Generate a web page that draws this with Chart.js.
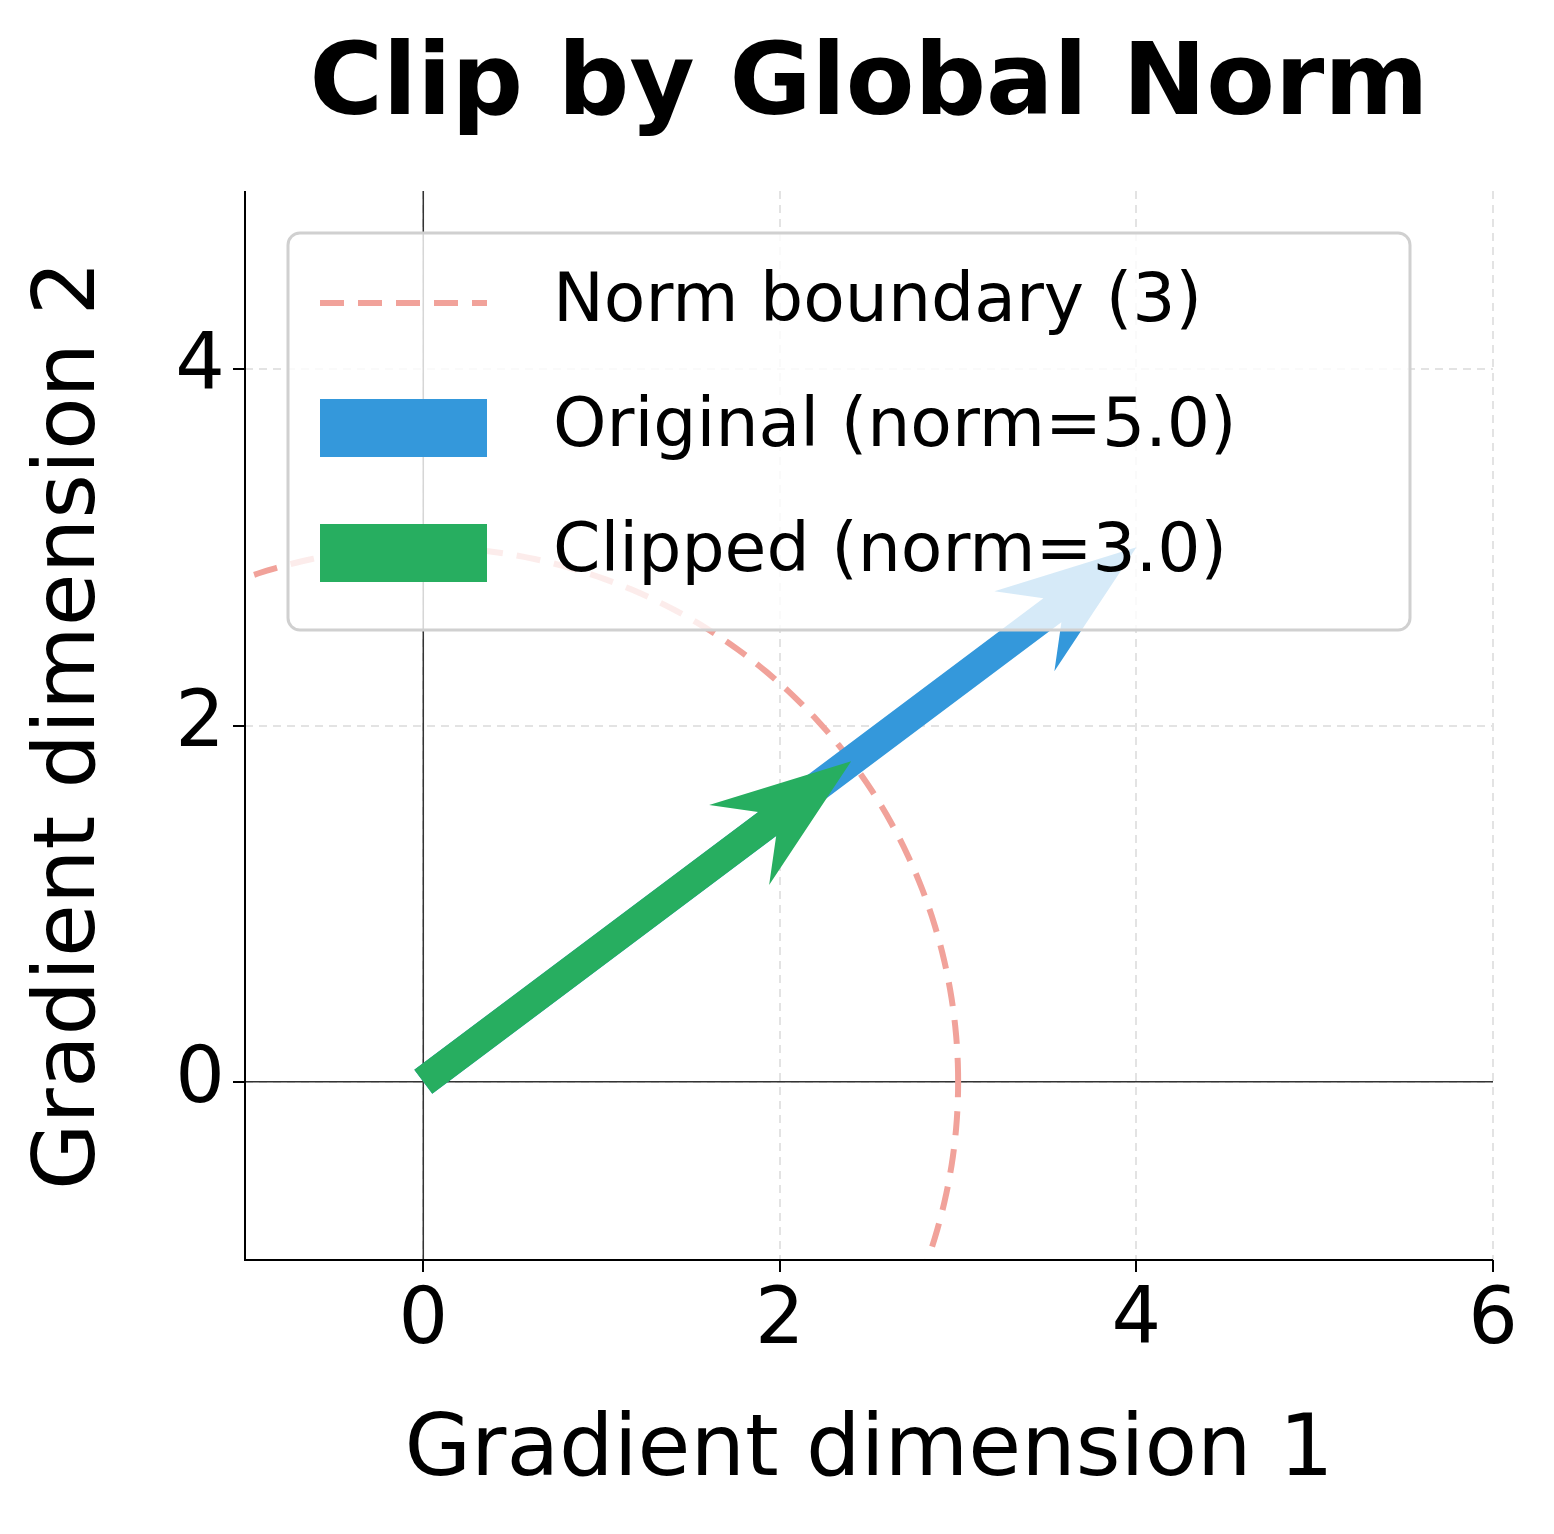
<!DOCTYPE html>
<html><head><meta charset="utf-8">
<script src="https://cdn.jsdelivr.net/npm/chart.js@4.4.1/dist/chart.umd.min.js"></script>
<style>html,body{margin:0;padding:0;background:#fff}#w{width:1554px;height:1534px}</style>
</head><body><div id="w"><canvas id="c"></canvas></div>
<script>
const titleText = "Clip by Global Norm";
const xTicks = [0, 2, 4, 6];
const yTicks = [0, 2, 4];
const normRadius = [3];
const originalVec = [4, 3];
const clippedVec = [2.4, 1.8];
const legendLabels = ["Norm boundary (3)", "Original (norm=5.0)", "Clipped (norm=3.0)"];
const colors = {circle: "#f1a29a", orig: "#3498db", clip: "#27ae60"};
const FONT = "'DejaVu Sans',sans-serif";

const circlePts = [];
for (let i = 0; i <= 360; i++) {
  const a = i * Math.PI / 180;
  circlePts.push({x: normRadius[0] * Math.cos(a), y: normRadius[0] * Math.sin(a)});
}

function arrow(ctx, x0, y0, x1, y1, color, shaftW, headL, headW) {
  const dx = x1 - x0, dy = y1 - y0, L = Math.hypot(dx, dy);
  const ux = dx / L, uy = dy / L, nx = -uy, ny = ux;
  const bx = x1 - ux * headL, by = y1 - uy * headL;
  const sx = x1 - ux * headL * 0.75, sy = y1 - uy * headL * 0.75;
  ctx.beginPath();
  ctx.moveTo(x0 + nx * shaftW / 2, y0 + ny * shaftW / 2);
  ctx.lineTo(sx + nx * shaftW / 2, sy + ny * shaftW / 2);
  ctx.lineTo(bx + nx * headW, by + ny * headW);
  ctx.lineTo(x1, y1);
  ctx.lineTo(bx - nx * headW, by - ny * headW);
  ctx.lineTo(sx - nx * shaftW / 2, sy - ny * shaftW / 2);
  ctx.lineTo(x0 - nx * shaftW / 2, y0 - ny * shaftW / 2);
  ctx.closePath();
  ctx.fillStyle = color; ctx.fill();
}

const plug = {
  id: 'extra',
  beforeDatasetsDraw(chart) {
    const {ctx, chartArea: a, scales: {x, y}} = chart;
    ctx.save();
    ctx.strokeStyle = '#333'; ctx.lineWidth = 1.5;
    ctx.beginPath();
    ctx.moveTo(x.getPixelForValue(0), a.top); ctx.lineTo(x.getPixelForValue(0), a.bottom);
    ctx.moveTo(a.left, y.getPixelForValue(0)); ctx.lineTo(a.right, y.getPixelForValue(0));
    ctx.stroke();
    ctx.restore();
  },
  afterDatasetsDraw(chart) {
    const {ctx, scales: {x, y}} = chart;
    const ox = x.getPixelForValue(0), oy = y.getPixelForValue(0);
    arrow(ctx, ox, oy, x.getPixelForValue(originalVec[0]), y.getPixelForValue(originalVec[1]), colors.orig, 30, 140, 50);
    arrow(ctx, ox, oy, x.getPixelForValue(clippedVec[0]), y.getPixelForValue(clippedVec[1]), colors.clip, 30, 140, 50);
  },
  afterDraw(chart) {
    const {ctx} = chart;
    ctx.save();
    const a = chart.chartArea;
    ctx.strokeStyle = '#000'; ctx.lineWidth = 2;
    ctx.beginPath(); ctx.moveTo(a.left, a.top); ctx.lineTo(a.left, a.bottom); ctx.lineTo(a.right, a.bottom); ctx.stroke();
    ctx.fillStyle = '#000'; ctx.font = "bold 100px " + FONT; ctx.textAlign = 'center'; ctx.textBaseline = 'middle';
    ctx.fillText(titleText, 869, 88);
    const lx = 288, ly = 233, lw = 1122, lh = 397, r = 12;
    ctx.beginPath(); ctx.roundRect(lx, ly, lw, lh, r);
    ctx.fillStyle = 'rgba(255,255,255,0.8)'; ctx.fill();
    ctx.strokeStyle = '#d0d0d0'; ctx.lineWidth = 3; ctx.stroke();
    ctx.font = "68px " + FONT; ctx.textAlign = 'left'; ctx.fillStyle = '#000';
    const rows = [303, 428, 553];
    ctx.strokeStyle = colors.circle; ctx.lineWidth = 6; ctx.setLineDash([24, 14]);
    ctx.beginPath(); ctx.moveTo(320, rows[0]); ctx.lineTo(487, rows[0]); ctx.stroke();
    ctx.setLineDash([]);
    ctx.fillStyle = colors.orig; ctx.fillRect(320, rows[1] - 29, 167, 58);
    ctx.fillStyle = colors.clip; ctx.fillRect(320, rows[2] - 29, 167, 58);
    ctx.fillStyle = '#000';
    legendLabels.forEach((t, i) => ctx.fillText(t, 553, rows[i]));
    ctx.restore();
  }
};

new Chart(document.getElementById('c'), {
  type: 'scatter',
  data: {datasets: [{
    data: circlePts, showLine: true, borderColor: colors.circle, borderWidth: 6,
    borderDash: [24, 14], pointRadius: 0, fill: false
  }]},
  options: {
    responsive: true, maintainAspectRatio: false, animation: false,
    devicePixelRatio: 1,
    layout: {padding: {top: 191, right: 61, left: 0, bottom: 0}},
    plugins: {legend: {display: false}, tooltip: {enabled: false}},
    scales: {
      x: {
        min: -1, max: 6,
        afterBuildTicks: s => { s.ticks = xTicks.map(v => ({value: v})); },
        afterFit: s => { s.height = 274; },
        grid: {color: '#e3e3e3', lineWidth: 2, tickColor: '#000', tickLength: 12, tickWidth: 2},
        border: {display: false, dash: [8, 6]},
        ticks: {color: '#000', font: {size: 78, family: FONT}, padding: 4, maxRotation: 0},
        title: {display: true, text: 'Gradient dimension 1', color: '#000', font: {size: 86, family: FONT}, padding: {top: 0, bottom: 30}}
      },
      y: {
        min: -1, max: 5,
        afterBuildTicks: s => { s.ticks = yTicks.map(v => ({value: v})); },
        afterFit: s => { s.width = 245; },
        grid: {color: '#e3e3e3', lineWidth: 2, tickColor: '#000', tickLength: 12, tickWidth: 2},
        border: {display: false, dash: [8, 6]},
        ticks: {color: '#000', font: {size: 78, family: FONT}, padding: 8},
        title: {display: true, text: 'Gradient dimension 2', color: '#000', font: {size: 86, family: FONT}, padding: {top: 20, bottom: 0}}
      }
    }
  },
  plugins: [plug]
});
</script></body></html>
